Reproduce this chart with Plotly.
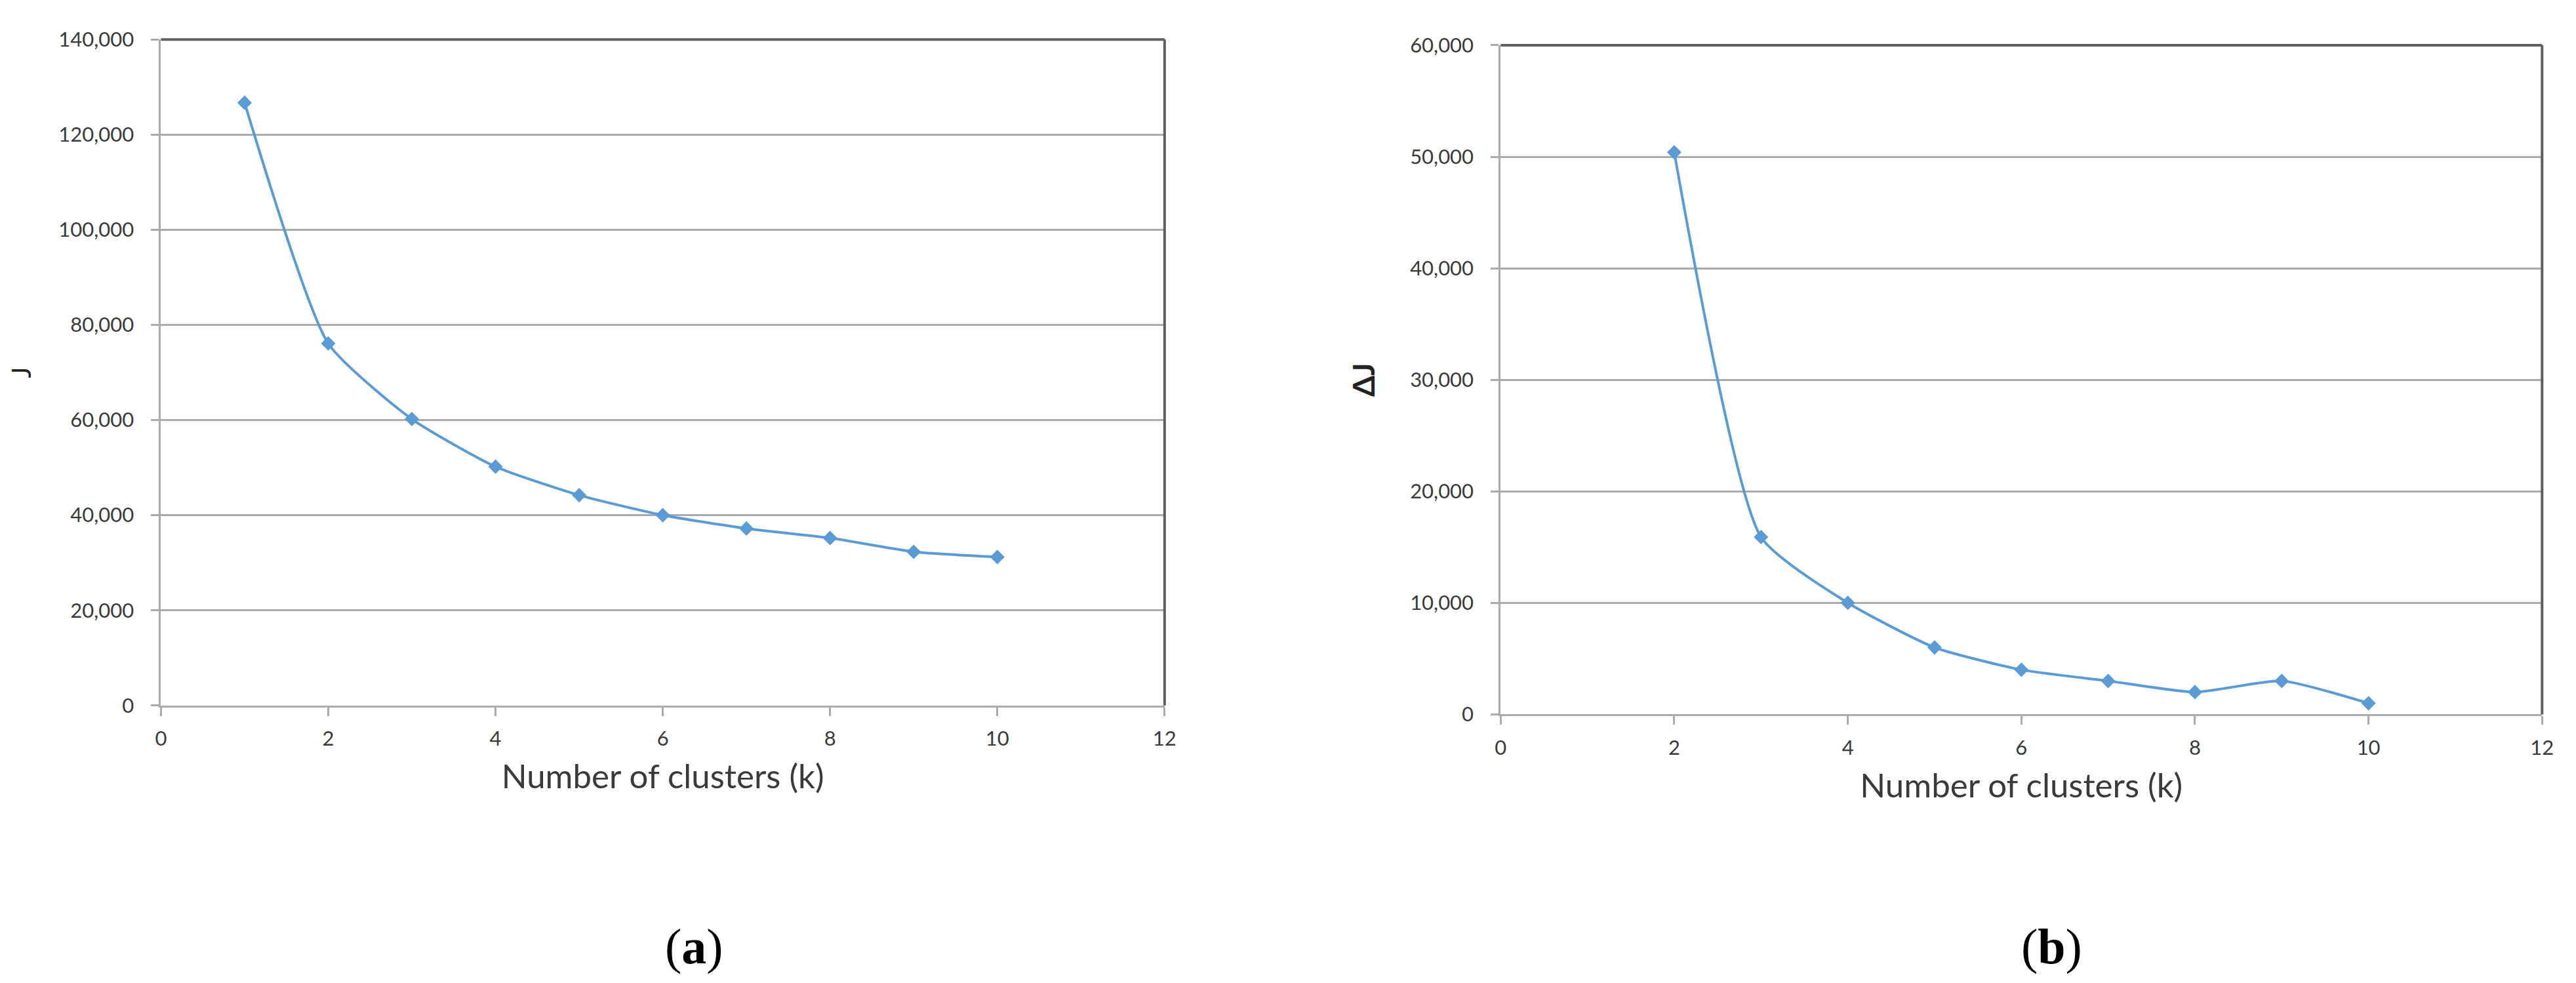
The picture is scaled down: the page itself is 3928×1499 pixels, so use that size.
import plotly.graph_objects as go

# k-means elbow data
k_values = [1, 2, 3, 4, 5, 6, 7, 8, 9, 10]
j_values = [126700, 76100, 60200, 50200, 44200, 40000, 37200, 35200, 32300, 31200]

dk_values = [2, 3, 4, 5, 6, 7, 8, 9, 10]
dj_values = [50400, 15900, 10000, 6000, 4000, 3000, 2000, 3000, 1000]

x_ticks = [0, 2, 4, 6, 8, 10, 12]
x_title = "Number of clusters (k)"
panel_labels = ["(<b>a</b>)", "(<b>b</b>)"]

W, H = 3928, 1499
blue = "#5B9BD5"
grid = "#ABABAB"
frame = "#5F5F5F"
txt = "#3A3A3A"
font_fam = "Lato, 'Open Sans', sans-serif"

fig = go.Figure()

fig.add_trace(go.Scatter(
    x=k_values, y=j_values, mode="lines+markers",
    line=dict(color=blue, width=4, shape="spline", smoothing=0.55),
    marker=dict(symbol="diamond", size=17, color=blue),
    xaxis="x", yaxis="y", showlegend=False,
))
fig.add_trace(go.Scatter(
    x=dk_values, y=dj_values, mode="lines+markers",
    line=dict(color=blue, width=4, shape="spline", smoothing=0.55),
    marker=dict(symbol="diamond", size=17, color=blue),
    xaxis="x2", yaxis="y2", showlegend=False,
))

def xax(domain, anchor):
    return dict(
        domain=domain, anchor=anchor, range=[0, 12],
        tickmode="array", tickvals=x_ticks,
        showgrid=False, zeroline=False,
        showline=True, linecolor=grid, linewidth=3,
        ticks="outside", ticklen=13, tickwidth=3, tickcolor=grid,
        tickfont=dict(family=font_fam, size=31, color=txt),
        ticklabelstandoff=8,
        title=dict(text=x_title, standoff=24,
                   font=dict(family=font_fam, size=51, color=txt)),
    )

def yax(domain, anchor, rng, dtick, title, tsize):
    return dict(
        domain=domain, anchor=anchor, range=rng, dtick=dtick,
        tickformat=",", showgrid=True, gridcolor=grid, gridwidth=3,
        zeroline=False, showline=True, linecolor=grid, linewidth=3,
        ticks="outside", ticklen=12, tickwidth=3, tickcolor=grid,
        tickfont=dict(family=font_fam, size=31, color=txt),
        ticklabelstandoff=20,
        title=dict(text=title, standoff=40,
                   font=dict(family=font_fam, size=tsize, color="#222222")),
    )

fig.update_layout(
    width=W, height=H,
    margin=dict(l=0, r=0, t=0, b=0),
    paper_bgcolor="white", plot_bgcolor="white",
    xaxis=xax([230 / W, 1771 / W], "y"),
    yaxis=yax([1 - 1075 / H, 1 - 33 / H], "x", [0, 140000], 20000, "J", 40),
    xaxis2=xax([2287 / W, 3886 / W], "y2"),
    yaxis2=yax([1 - 1089 / H, 1 - 42 / H], "x2", [0, 60000], 10000, "<b>ΔJ</b>", 46),
)

# dark top and right frame lines of each plot area
for xr, yr in [("x domain", "y domain"), ("x2 domain", "y2 domain")]:
    fig.add_shape(type="line", xref=xr, yref=yr, x0=0, x1=1, y0=1, y1=1,
                  line=dict(color=frame, width=4))
    fig.add_shape(type="line", xref=xr, yref=yr, x0=1, x1=1, y0=0, y1=1,
                  line=dict(color=frame, width=4))

for label, xc in zip(panel_labels, [1049 / W, 3133 / W]):
    fig.add_annotation(
        text=label, xref="paper", yref="paper", x=xc, y=1 - 1452 / H,
        showarrow=False, xanchor="center", yanchor="middle",
        font=dict(family="Liberation Serif, 'DejaVu Serif', serif", size=76, color="black"),
    )

fig.write_html("out.html")
